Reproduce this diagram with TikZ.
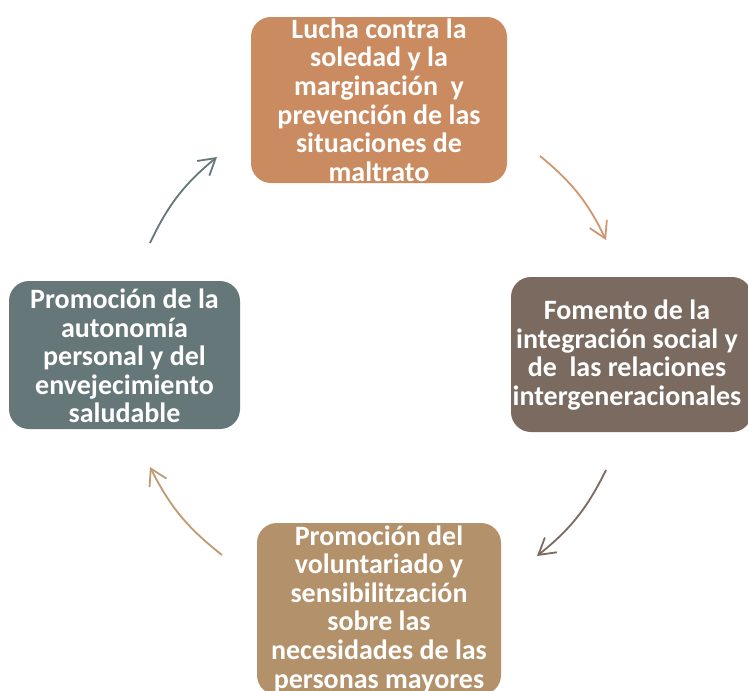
\documentclass[tikz,border=0pt]{standalone}
\usepackage{fontspec}
\setmainfont{Carlito}
\usetikzlibrary{arrows.meta}
\definecolor{cTop}{RGB}{201,139,95}
\definecolor{cRight}{RGB}{122,106,96}
\definecolor{cLeft}{RGB}{102,119,121}
\definecolor{cBot}{RGB}{179,145,106}
\definecolor{aTop}{RGB}{210,150,110}
\definecolor{aBot}{RGB}{190,155,115}
\begin{document}
\begin{tikzpicture}[x=1pt,y=-1pt,
 box/.style={rounded corners=20pt, draw=none, inner sep=0pt},
 lbl/.style={text=white, font=\bfseries\fontsize{28}{28.6}\selectfont, align=center, inner sep=0pt},
 arr/.style={line width=1.8pt, -{Straight Barb[length=16pt,width=19pt]}, bend left=12.5}]
\useasboundingbox[fill=white] (0,0) rectangle (748,691);
% boxes
\node[box, fill=cTop, minimum width=256pt, minimum height=166pt] (top) at (379,100) {};
\node[box, fill=cRight, minimum width=241pt, minimum height=155pt] (right) at (631.5,354.5) {};
\node[box, fill=cLeft, minimum width=231pt, minimum height=148pt] (left) at (124.5,355) {};
\node[box, fill=cBot, minimum width=244pt, minimum height=172pt] (bot) at (379,609) {};
% texts
\node[lbl] (topt) at (379,100) {Lucha contra la\\soledad y la\\marginación~ y\\prevención de las\\situaciones de\\maltrato};
\node[lbl] (rightt) at (627,355) {Fomento de la\\integración social y\\de~ las relaciones\\intergeneracionales};
\node[lbl] (leftt) at (124.5,356) {Promoción de la\\autonomía\\personal y del\\envejecimiento\\saludable};
\node[lbl] (bott) at (379,609) {Promoción del\\voluntariado y\\sensibilitzación\\sobre las\\necesidades de las\\personas mayores};
% arrows
\coordinate (a1s) at (150,243); \coordinate (a1e) at (217,157);
\coordinate (a2s) at (540,156); \coordinate (a2e) at (606,240);
\coordinate (a3s) at (606,470); \coordinate (a3e) at (537,556);
\coordinate (a4s) at (222,555); \coordinate (a4e) at (150,467);
\draw[arr, cLeft] (a1s) to (a1e);
\draw[arr, aTop] (a2s) to (a2e);
\draw[arr, cRight] (a3s) to (a3e);
\draw[arr, aBot] (a4s) to (a4e);
\end{tikzpicture}
\end{document}
